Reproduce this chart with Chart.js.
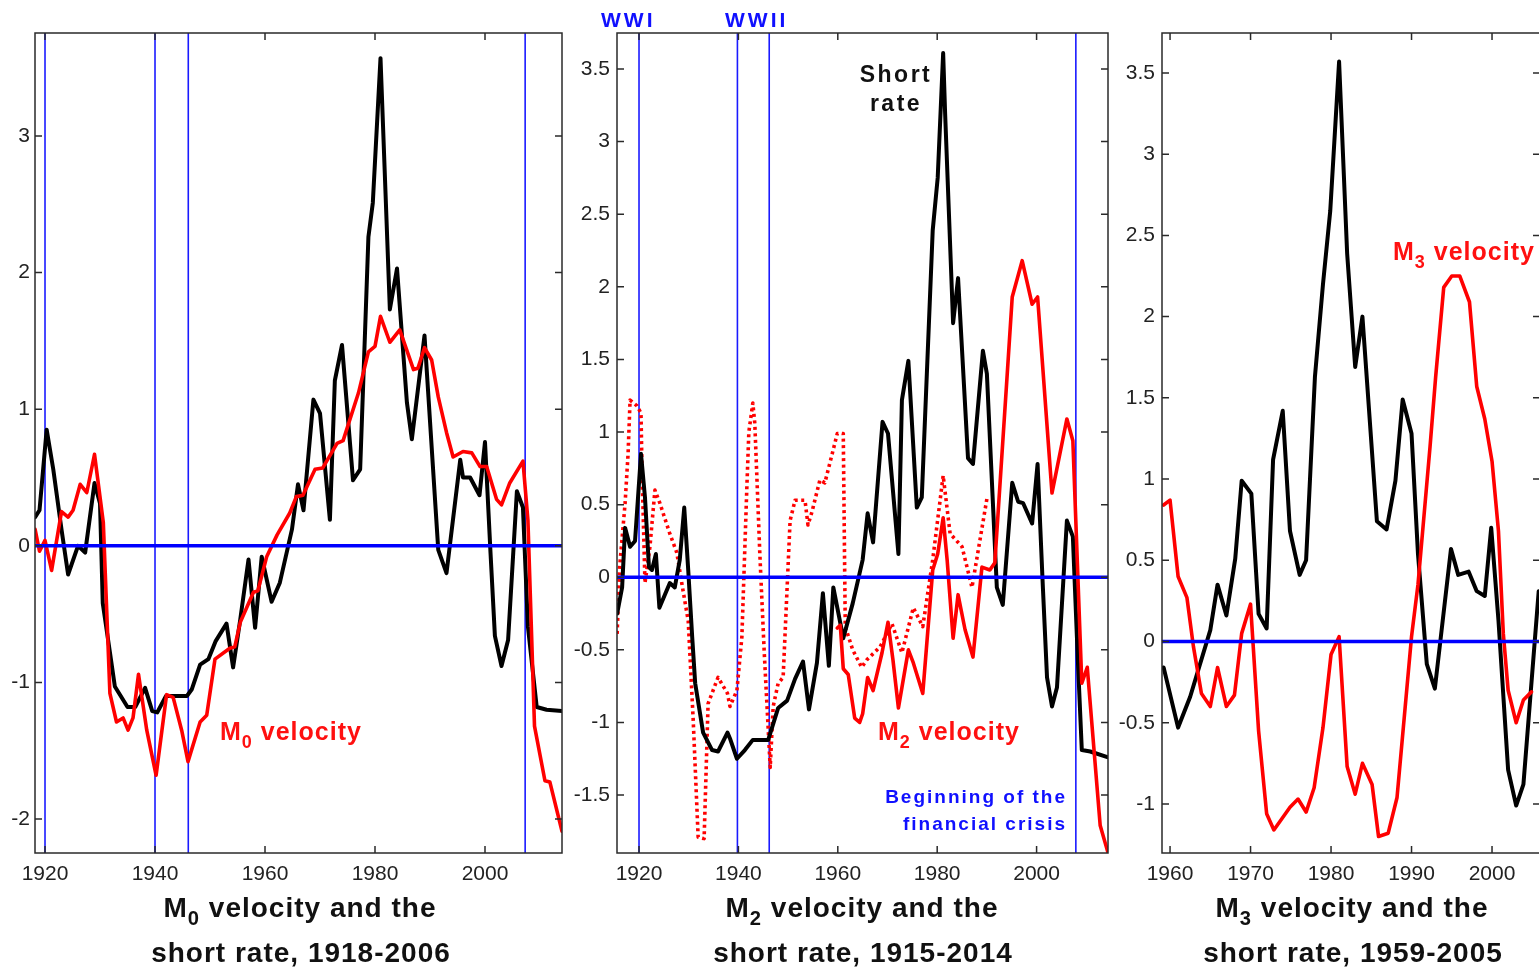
<!DOCTYPE html>
<html><head><meta charset="utf-8">
<script src="https://cdn.jsdelivr.net/npm/chart.js@4.4.1/dist/chart.umd.min.js"></script>
<style>
html,body{margin:0;padding:0;background:#fff;overflow:hidden;width:1539px;height:967px;position:relative;}
canvas{position:absolute;top:0;}
.t{position:absolute;font-family:"Liberation Sans",Arial,sans-serif;font-weight:bold;white-space:nowrap;line-height:1;}
.sub{font-size:0.72em;position:relative;top:0.42em;}
.title{font-size:28px;letter-spacing:1px;color:#111;width:600px;text-align:center;}
.red{color:#ff1010;font-size:25px;letter-spacing:1px;}
.blue{color:#1010ff;}
</style></head><body>
<canvas id="c1" width="575" height="895" style="left:0px"></canvas>
<canvas id="c2" width="560" height="895" style="left:560px"></canvas>
<canvas id="c3" width="440" height="895" style="left:1110px"></canvas>

<div class="t title" style="left:0px;top:894px">M<span class="sub">0</span> velocity and the</div>
<div class="t title" style="left:1px;top:939px">short rate, 1918-2006</div>
<div class="t title" style="left:562px;top:894px">M<span class="sub">2</span> velocity and the</div>
<div class="t title" style="left:563px;top:939px">short rate, 1915-2014</div>
<div class="t title" style="left:1052px;top:894px">M<span class="sub">3</span> velocity and the</div>
<div class="t title" style="left:1053px;top:939px">short rate, 1959-2005</div>

<div class="t red" style="left:220px;top:719px">M<span class="sub">0</span> velocity</div>
<div class="t red" style="left:878px;top:719px">M<span class="sub">2</span> velocity</div>
<div class="t red" style="left:1393px;top:239px">M<span class="sub">3</span> velocity</div>

<div class="t" style="left:796px;top:63px;width:200px;text-align:center;font-size:23px;letter-spacing:2.5px;color:#111">Short</div>
<div class="t" style="left:796px;top:92px;width:200px;text-align:center;font-size:23px;letter-spacing:2.5px;color:#111">rate</div>

<div class="t blue" style="left:767px;top:787px;width:300px;text-align:right;font-size:19px;letter-spacing:2px">Beginning of the</div>
<div class="t blue" style="left:767px;top:814px;width:300px;text-align:right;font-size:19px;letter-spacing:2px">financial crisis</div>

<div class="t blue" style="left:601px;top:9px;font-size:21px;letter-spacing:3px">WWI</div>
<div class="t blue" style="left:725px;top:9px;font-size:21px;letter-spacing:3px">WWII</div>

<script>
// ---------- Panel 1: M0 velocity and the short rate ----------
const m0RateYears = [1918.2,1919,1920.3,1921.5,1923,1924.2,1926,1927.3,1929,1930,1930.5,1931.8,1932.7,1935,1936.4,1938.2,1939.5,1940.4,1942,1945.8,1946.7,1948.2,1949.7,1951,1953,1954.2,1955.5,1957,1958.2,1959.4,1961.2,1962.7,1964.9,1966,1967,1968.8,1970,1971.8,1972.7,1974,1976,1977.3,1978.8,1979.6,1981,1982.7,1984,1985.8,1986.7,1989,1991.5,1993,1995.5,1996,1997.3,1999,2000,2001,2001.8,2003,2004.2,2005.8,2006.9,2007.8,2009.4,2011.2,2014];
const m0Rate = [0.21,0.26,0.85,0.56,0.12,-0.21,0.0,-0.05,0.46,0.31,-0.42,-0.78,-1.03,-1.18,-1.18,-1.04,-1.21,-1.22,-1.10,-1.10,-1.05,-0.87,-0.83,-0.70,-0.57,-0.89,-0.54,-0.10,-0.60,-0.08,-0.41,-0.27,0.12,0.45,0.26,1.07,0.97,0.19,1.21,1.47,0.48,0.56,2.26,2.51,3.57,1.73,2.03,1.05,0.78,1.54,-0.03,-0.20,0.63,0.50,0.50,0.37,0.76,-0.05,-0.66,-0.88,-0.69,0.40,0.28,-0.59,-1.18,-1.20,-1.21];
const m0VelYears = [1918.2,1919,1920,1921.2,1923,1924.2,1925.1,1926.4,1927.6,1929,1930.6,1931.8,1933,1934.2,1935.1,1936,1937,1938.5,1940.2,1942.1,1943.3,1944.9,1946,1948.2,1949.4,1950.9,1953.6,1954.5,1955.5,1957.9,1958.7,1960.3,1962.2,1964.5,1965.7,1966.9,1969.1,1970.5,1973.1,1974.2,1977,1978.8,1980,1981,1982.7,1984.5,1987,1987.8,1989,1990.3,1991.5,1993,1994.2,1996,1997.6,1999.1,2000.3,2002.1,2003,2004.5,2006.9,2007.8,2009,2010.9,2011.8,2014];
const m0Velocity = [0.12,-0.04,0.04,-0.18,0.25,0.21,0.26,0.45,0.39,0.67,0.17,-1.08,-1.29,-1.26,-1.35,-1.26,-0.94,-1.35,-1.68,-1.09,-1.11,-1.36,-1.58,-1.29,-1.24,-0.83,-0.75,-0.74,-0.56,-0.34,-0.33,-0.08,0.08,0.24,0.36,0.37,0.56,0.57,0.75,0.77,1.12,1.42,1.46,1.68,1.49,1.58,1.29,1.30,1.45,1.36,1.09,0.83,0.65,0.69,0.68,0.58,0.58,0.34,0.30,0.46,0.62,0.19,-1.32,-1.72,-1.73,-2.09];
const p1XTicks = [1920,1940,1960,1980,2000];
const p1YTicks = [-2,-1,0,1,2,3];
const p1Events = [1920,1940,1946.05,2007.3];

// ---------- Panel 2: M2 velocity and the short rate ----------
const m2RateYears = [1915.6,1916.6,1917.2,1918.2,1919.2,1920.4,1921.2,1922.0,1922.6,1923.4,1924.1,1926.2,1927.2,1928.2,1929.1,1929.9,1930.7,1931.3,1932.9,1934.7,1935.9,1937.8,1938.3,1939.7,1941.3,1942.9,1946.0,1948.0,1949.8,1951.4,1953.0,1954.2,1955.8,1957.0,1958.2,1959.1,1961.1,1963.0,1965.0,1966.0,1967.1,1969.0,1970.1,1972.2,1972.9,1974.2,1975.9,1976.9,1979.1,1980.1,1981.2,1981.6,1983.2,1984.2,1986.2,1987.2,1989.2,1990.0,1992.0,1993.2,1995.1,1996.3,1997.3,1999.1,2000.2,2001.2,2002.1,2003.1,2004.1,2006.1,2007.3,2008.3,2009.1,2010.8,2014.4];
const m2Rate = [-0.25,-0.07,0.34,0.21,0.25,0.85,0.55,0.07,0.05,0.16,-0.21,-0.04,-0.07,0.12,0.48,0.05,-0.41,-0.73,-1.07,-1.19,-1.20,-1.07,-1.11,-1.25,-1.19,-1.12,-1.12,-0.90,-0.85,-0.70,-0.58,-0.91,-0.59,-0.11,-0.61,-0.07,-0.42,-0.18,0.12,0.44,0.24,1.07,0.99,0.16,1.22,1.49,0.48,0.55,2.39,2.75,3.61,3.19,1.75,2.06,0.82,0.78,1.56,1.40,-0.07,-0.19,0.65,0.52,0.51,0.37,0.78,-0.02,-0.69,-0.89,-0.76,0.39,0.28,-0.57,-1.19,-1.20,-1.24];
const m2VelYears = [1959.9,1960.5,1961.1,1962.1,1963.4,1964.4,1965.0,1966.0,1967.1,1968.9,1970.1,1971.1,1972.2,1972.9,1974.2,1975.2,1977.1,1979.1,1980.1,1981.2,1982.0,1983.2,1984.2,1985.6,1987.2,1989.0,1990.6,1991.6,1994.0,1995.1,1997.1,1999.1,2000.2,2003.1,2006.1,2007.3,2009.1,2010.2,2012.8,2014.4];
const m2Velocity = [-0.35,-0.33,-0.63,-0.67,-0.97,-1.00,-0.94,-0.69,-0.78,-0.52,-0.31,-0.57,-0.90,-0.76,-0.50,-0.59,-0.80,0.05,0.16,0.41,0.12,-0.42,-0.12,-0.36,-0.55,0.07,0.05,0.10,1.35,1.93,2.18,1.88,1.93,0.58,1.09,0.94,-0.73,-0.62,-1.71,-1.90];
const m2DottedYears = [1915.6,1916.1,1917.2,1917.8,1918.2,1919.6,1920.4,1920.6,1921.2,1922.2,1923.2,1924.2,1926.2,1927.6,1928.6,1929.9,1930.9,1931.9,1933.1,1933.9,1935.9,1937.8,1938.3,1939.7,1940.7,1941.7,1942.1,1942.9,1943.3,1944.3,1945.2,1946.4,1947.0,1948.0,1949.0,1950.4,1951.4,1953.4,1954.0,1954.8,1956.4,1957.4,1959.9,1961.1,1961.5,1963.0,1964.8,1965.8,1968.5,1970.9,1972.9,1975.2,1977.1,1979.1,1981.2,1982.6,1985.0,1987.0,1990.0];
const m2Dotted = [-0.39,0.07,0.51,0.85,1.22,1.18,1.13,0.74,-0.04,0.21,0.60,0.51,0.30,0.17,-0.04,-0.30,-0.98,-1.79,-1.80,-0.87,-0.69,-0.80,-0.89,-0.78,-0.41,0.62,1.00,1.20,1.06,0.17,-0.52,-1.31,-0.89,-0.73,-0.69,0.39,0.53,0.53,0.36,0.45,0.67,0.65,0.99,0.99,-0.34,-0.50,-0.62,-0.57,-0.48,-0.32,-0.52,-0.21,-0.34,0.12,0.70,0.30,0.21,-0.07,0.54];
const p2XTicks = [1920,1940,1960,1980,2000];
const p2YTicks = [-1.5,-1,-0.5,0,0.5,1,1.5,2,2.5,3,3.5];
const p2Events = [1920,1939.8,1946.2,2007.9];

// ---------- Panel 3: M3 velocity and the short rate ----------
const m3RateYears = [1959.2,1961.0,1962.5,1965.0,1965.9,1967.0,1968.1,1968.9,1970.1,1971.0,1972.0,1972.8,1974.0,1974.9,1976.1,1976.9,1978.0,1979.0,1979.9,1981.0,1982.0,1983.0,1983.9,1985.7,1986.9,1988.0,1988.9,1990.0,1990.8,1991.9,1992.9,1994.9,1995.8,1997.1,1998.1,1999.1,1999.9,2000.8,2002.0,2003.0,2003.9,2005.8];
const m3Rate = [-0.16,-0.53,-0.34,0.07,0.35,0.16,0.51,0.99,0.91,0.17,0.08,1.12,1.42,0.68,0.41,0.50,1.63,2.20,2.65,3.57,2.39,1.69,2.00,0.74,0.69,0.99,1.49,1.28,0.54,-0.14,-0.29,0.57,0.41,0.43,0.31,0.28,0.70,0.13,-0.79,-1.01,-0.88,0.31];
const m3VelYears = [1959.2,1960.0,1961.0,1962.1,1962.9,1963.9,1965.0,1965.9,1967.0,1968.0,1968.9,1970.0,1971.0,1972.0,1972.9,1974.9,1975.9,1976.9,1977.9,1979.0,1980.0,1981.0,1982.0,1983.0,1983.9,1985.1,1985.9,1987.1,1988.2,1990.0,1990.8,1992.3,1993.0,1994.0,1995.0,1996.0,1997.2,1998.1,1999.1,2000.0,2000.8,2001.4,2002.0,2003.0,2003.9,2004.9];
const m3Velocity = [0.84,0.87,0.40,0.27,-0.03,-0.32,-0.40,-0.16,-0.40,-0.33,0.05,0.23,-0.55,-1.06,-1.16,-1.02,-0.97,-1.05,-0.90,-0.53,-0.08,0.03,-0.77,-0.94,-0.75,-0.88,-1.20,-1.18,-0.96,0.03,0.35,1.20,1.63,2.18,2.25,2.25,2.09,1.57,1.37,1.11,0.68,0.05,-0.30,-0.50,-0.36,-0.31];
const p3XTicks = [1960,1970,1980,1990,2000];
const p3YTicks = [-1,-0.5,0,0.5,1,1.5,2,2.5,3,3.5];

// ---------- drawing ----------
const zip = (xs, ys) => xs.map((x, i) => ({x: x, y: ys[i]}));

const framePlugin = {
  id: 'frame',
  afterDatasetsDraw(chart) {
    const {ctx, chartArea: a, scales: {x, y}} = chart;
    const L = 7;
    ctx.save();
    ctx.strokeStyle = '#2a2a2a';
    ctx.lineWidth = 1.5;
    ctx.strokeRect(a.left, a.top, a.right - a.left, a.bottom - a.top);
    ctx.beginPath();
    x.ticks.forEach(t => {
      const px = x.getPixelForValue(t.value);
      ctx.moveTo(px, a.bottom); ctx.lineTo(px, a.bottom - L);
      ctx.moveTo(px, a.top); ctx.lineTo(px, a.top + L);
    });
    y.ticks.forEach(t => {
      const py = y.getPixelForValue(t.value);
      ctx.moveTo(a.left, py); ctx.lineTo(a.left + L, py);
      ctx.moveTo(a.right, py); ctx.lineTo(a.right - L, py);
    });
    ctx.stroke();
    ctx.restore();
  }
};

function makePanel(id, p) {
  const datasets = [];
  (p.events || []).forEach(ev => datasets.push({
    data: [{x: ev, y: p.yMin}, {x: ev, y: p.yMax}],
    borderColor: '#1a1aff', borderWidth: 1.6, order: 10
  }));
  p.series.forEach((s, i) => datasets.push({
    data: zip(s.xs, s.ys), borderColor: s.color, borderWidth: s.width,
    borderDash: s.dash || [], borderCapStyle: s.dash ? 'butt' : 'round',
    borderJoinStyle: 'round', order: s.order
  }));
  datasets.push({
    data: [{x: p.xMin, y: 0}, {x: p.xMax, y: 0}],
    borderColor: '#0000ff', borderWidth: 3.5, order: 0
  });
  datasets.forEach(d => { d.pointRadius = 0; d.tension = 0; d.fill = false; });

  const tickFont = {family: '"Liberation Sans", Arial, sans-serif', size: 21};
  new Chart(document.getElementById(id), {
    type: 'line',
    data: {datasets},
    plugins: [framePlugin],
    options: {
      responsive: false, animation: false, devicePixelRatio: 1, events: [],
      layout: {padding: {top: 33, right: p.padRight, left: 0, bottom: 0}},
      plugins: {legend: {display: false}, tooltip: {enabled: false}},
      scales: {
        x: {
          type: 'linear', min: p.xMin, max: p.xMax,
          grid: {display: false, drawTicks: false}, border: {display: false},
          ticks: {font: tickFont, color: '#222', padding: 9, maxRotation: 0, autoSkip: false,
                  callback: v => String(v)},
          afterBuildTicks: s => { s.ticks = p.xTicks.map(v => ({value: v})); },
          afterFit: s => { s.height = 895 - 853; }
        },
        y: {
          type: 'linear', min: p.yMin, max: p.yMax,
          grid: {display: false, drawTicks: false}, border: {display: false},
          ticks: {font: tickFont, color: '#222', padding: p.labelPad, autoSkip: false,
                  callback: v => String(v)},
          afterBuildTicks: s => { s.ticks = p.yTicks.map(v => ({value: v})); },
          afterFit: s => { s.width = p.axisWidth; }
        }
      }
    }
  });
}

makePanel('c1', {
  xMin: 1918.18, xMax: 2014.0, yMin: -2.249, yMax: 3.754,
  xTicks: p1XTicks, yTicks: p1YTicks, events: p1Events,
  axisWidth: 35, padRight: 13, labelPad: 5,
  series: [
    {xs: m0RateYears, ys: m0Rate, color: '#000000', width: 4, order: 2},
    {xs: m0VelYears, ys: m0Velocity, color: '#ff0000', width: 3.6, order: 1}
  ]
});

makePanel('c2', {
  xMin: 1915.57, xMax: 2014.37, yMin: -1.899, yMax: 3.748,
  xTicks: p2XTicks, yTicks: p2YTicks, events: p2Events,
  axisWidth: 57, padRight: 12, labelPad: 7,
  series: [
    {xs: m2RateYears, ys: m2Rate, color: '#000000', width: 4, order: 2},
    {xs: m2DottedYears, ys: m2Dotted, color: '#ff0000', width: 3.6, dash: [3, 3.5], order: 3},
    {xs: m2VelYears, ys: m2Velocity, color: '#ff0000', width: 3.6, order: 1}
  ]
});

makePanel('c3', {
  xMin: 1959.0, xMax: 2005.96, yMin: -1.302, yMax: 3.746,
  xTicks: p3XTicks, yTicks: p3YTicks, events: [],
  axisWidth: 52, padRight: 10, labelPad: 7,
  series: [
    {xs: m3RateYears, ys: m3Rate, color: '#000000', width: 4, order: 2},
    {xs: m3VelYears, ys: m3Velocity, color: '#ff0000', width: 3.6, order: 1}
  ]
});
</script>
</body></html>
